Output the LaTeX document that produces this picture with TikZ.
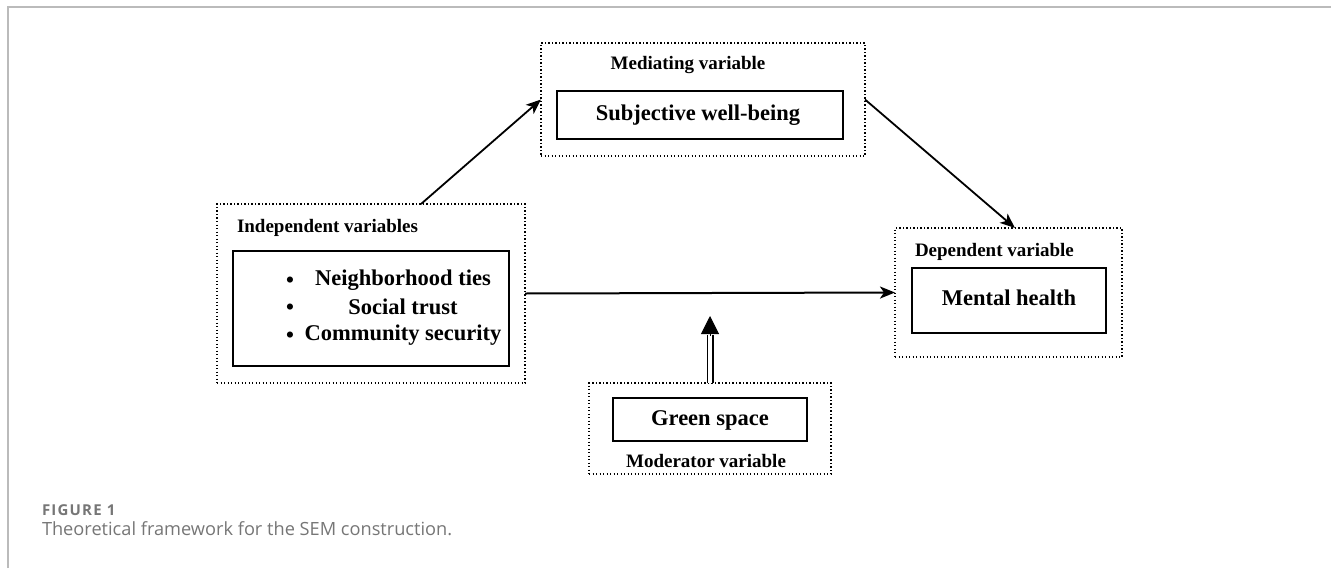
\documentclass[tikz,border=0pt]{standalone}
\usepackage{fontspec}
\setmainfont{Liberation Serif}
\newfontfamily\capfont{Open Sans}
\newfontfamily\capfontsp[LetterSpace=8]{Open Sans}
\usetikzlibrary{arrows.meta,calc}
\definecolor{framegray}{HTML}{BBBBBB}
\definecolor{capgray}{HTML}{767676}
\begin{document}
\begin{tikzpicture}[x=1pt,y=-1pt,
  outerbox/.style={draw, line width=1.3pt, dash pattern=on 1.3pt off 2.2pt},
  innerbox/.style={draw, line width=2pt, inner sep=0pt},
  lbl/.style={font=\fontsize{19}{19}\selectfont\bfseries, inner sep=0pt},
  main/.style={font=\fontsize{22.5}{22.5}\selectfont\bfseries, inner sep=0pt},
  arr/.style={line width=1.8pt, -{Stealth[length=15pt,width=12pt,inset=4pt]}},
  every node/.style={inner sep=0pt, outer sep=0pt}
]
\useasboundingbox (0,0) rectangle (1331,568);
% frame
\draw[framegray, line width=1.5pt] (8,568) -- (8,7) -- (1331,7);

% mediating
\node[outerbox, minimum width=324pt, minimum height=113pt] (med) at (703,99.5) {};
\node[innerbox, minimum width=286pt, minimum height=48pt] (medin) at (700,115) {};
\node[lbl] (medlbl) at (688,65) {Mediating variable};
\node[main] (swb) at (698,115) {Subjective well-being};

% independent
\node[outerbox, minimum width=308pt, minimum height=179pt] (ind) at (371,293.5) {};
\node[innerbox, minimum width=276pt, minimum height=115pt] (indin) at (371,308.5) {};
\node[lbl, anchor=west] (indlbl) at (237,228) {Independent variables};
\node[main] (t1) at (403,280) {Neighborhood ties};
\node[main] (t2) at (403,307) {Social trust};
\node[main] (t3) at (403,335) {Community security};
\node[main] (b1) at (290,282) {\textbullet};
\node[main] (b2) at (290,309) {\textbullet};
\node[main] (b3) at (290,337) {\textbullet};

% dependent
\node[outerbox, minimum width=227pt, minimum height=129pt] (dep) at (1008.5,292.5) {};
\node[innerbox, minimum width=194pt, minimum height=65pt] (depin) at (1009,300.5) {};
\node[lbl, anchor=west] (deplbl) at (915,252) {Dependent variable};
\node[main] (mh) at (1009,298) {Mental health};

% moderator
\node[outerbox, minimum width=242pt, minimum height=91pt] (mod) at (710,428.5) {};
\node[innerbox, minimum width=194pt, minimum height=43pt] (modin) at (710,419.5) {};
\node[main] (gs) at (710,420) {Green space};
\node[lbl] (modlbl) at (706,461) {Moderator variable};

% connectors
\coordinate (a1) at ($(ind.north)+(50,0)$);
\draw[arr] (a1) -- (med.west);
\coordinate (a2) at ($(dep.north)+(6.5,0)$);
\draw[arr] (med.east) -- (a2);
\draw[arr, line width=2pt] (ind.east) -- (dep.west);
\coordinate (dbase) at ($(mod.north)+(0,-48)$);
\coordinate (dtip) at ($(mod.north)+(0,-67)$);
\draw[double, double distance=4pt, line width=1.5pt] (mod.north) -- (dbase);
\draw[line width=1pt, -{Triangle[length=18pt,width=18pt]}] ($(dbase)+(0,1)$) -- (dtip);

% caption
\node[anchor=base west, text=capgray, font=\capfontsp\fontsize{15}{15}\selectfont\bfseries] (fig) at (42,515) {FIGURE 1};
\node[anchor=base west, text=capgray, font=\capfont\fontsize{18.2}{18.2}\selectfont] (cap) at (42,535) {Theoretical framework for the SEM construction.};
\end{tikzpicture}
\end{document}
